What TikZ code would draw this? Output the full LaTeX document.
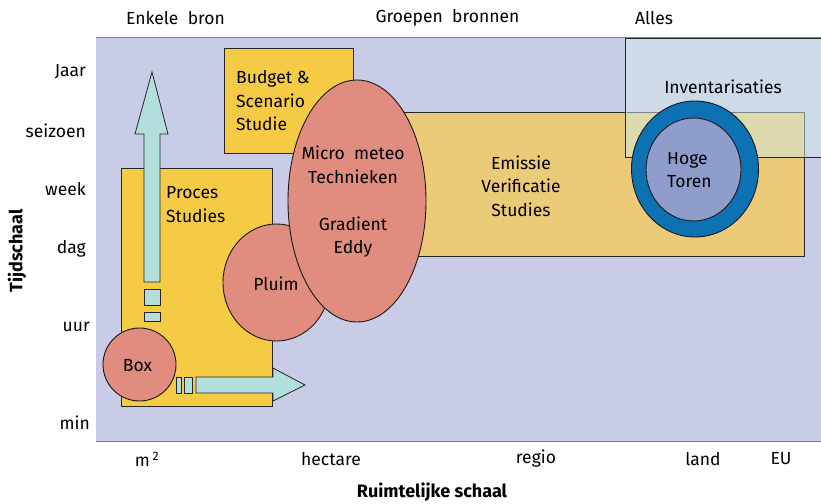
\documentclass[tikz,border=0pt]{standalone}
\usepackage{fontspec}
\setmainfont{Fira Sans}
\usepackage{tikz}
\usetikzlibrary{positioning, shapes.geometric}
\definecolor{lav}{HTML}{C8CCE6}
\definecolor{geel}{HTML}{F5CB45}
\definecolor{oker}{HTML}{ECCB78}
\definecolor{zalm}{HTML}{E08C7E}
\definecolor{turk}{HTML}{B2DEDC}
\definecolor{ring}{HTML}{0C72B4}
\definecolor{toren}{HTML}{8E9DCB}
\definecolor{inv}{HTML}{D0EAE8}
\tikzset{
  vak/.style={draw=black!85, line width=0.9pt, inner sep=0pt},
  bol/.style={ellipse, draw=black!90, line width=0.9pt, fill=zalm, inner sep=0pt},
  pijl/.style={draw=black!85, line width=0.8pt, fill=turk},
  as/.style={inner sep=0pt, anchor=east},
  tekst/.style={inner sep=0pt, align=center}
}

\begin{document}
\begin{tikzpicture}[x=1pt, y=-1pt, font=\fontsize{17.5}{23.5}\selectfont]
    \useasboundingbox (0,0) rectangle (821,503);
    \fill[lav] (96,37) rectangle (821,441);
    \draw[gray, line width=0.8pt] (96,37) -- (821,37) (96,441) -- (821,441);

    % rechthoeken
    \node [vak, fill=geel, minimum width=129, minimum height=105] (B) at (288.5,100.5) {};
    \node [vak, fill=oker, minimum width=424, minimum height=144] (E) at (592,184) {};
    \node [vak, fill=inv, fill opacity=0.5, minimum width=196, minimum height=119] (I) at (723,97.5) {};
    \node [vak, fill=geel, minimum width=151, minimum height=238] (P) at (196.5,287) {};

    % ellipsen
    \node [bol, minimum width=107, minimum height=117] (Pl) at (276.5,282.5) {};
    \node [bol, minimum width=138, minimum height=242, align=center] (M) at (357,201) {};
    \node [bol, minimum width=73, minimum height=73] (Bx) at (139.5,364.5) {};

    % pijlen
    \draw[pijl] (144,282) -- (144,134) -- (135,134) -- (152,72) -- (168,134)
        -- (160,134) -- (160,282) -- cycle;
    \draw[pijl] (144,289) rectangle (160,305);
    \draw[pijl] (144,312) rectangle (160,321);
    \draw[pijl] (196,377) -- (273,377) -- (273,368) -- (305,385) -- (273,401)
        -- (273,393) -- (196,393) -- cycle;
    \draw[pijl] (176,377) rectangle (181,393);
    \draw[pijl] (184,377) rectangle (192,393);

    % hoge toren
    \node [ellipse, draw=black!90, line width=0.9pt, fill=ring, minimum width=127, minimum height=136] (R) at (695,169) {};
    \node [ellipse, draw=black!90, line width=0.9pt, fill=toren, minimum width=95, minimum height=103] (T) at (693.5,169.5) {};

    % teksten
    \node [tekst, align=left, anchor=west] (Bt) at (236,101) {Budget \&\\Scenario\\Studie};
    \node [tekst, align=left, anchor=west] (Pt) at (166,204.5) {Proces\\Studies};
    \node [tekst] (Mt) at (353,202) {Micro\ \ meteo\\Technieken\\[23.5pt]Gradient\\Eddy};
    \node [tekst] (Et) at (521,186) {Emissie\\Verificatie\\Studies};
    \node [tekst] (It) at (723,87) {Inventarisaties};
    \node [tekst, align=left, anchor=west] (Tt) at (667,170) {Hoge\\Toren};
    \node [tekst] (Plt) at (276,284) {Pluim};
    \node [tekst] (Bxt) at (137.5,366) {Box};

    % assen
    \node [tekst] (e1) at (175.5,18) {Enkele\ \ bron};
    \node [tekst] (e2) at (447.5,18) {Groepen\ \ bronnen};
    \node [tekst] (e3) at (654,18) {Alles};
    \node [as] (t1) at (86,72) {Jaar};
    \node [as] (t2) at (86,131) {seizoen};
    \node [as] (t3) at (86,189) {week};
    \node [as] (t4) at (86,249) {dag};
    \node [as] (t5) at (90,327) {uur};
    \node [as] (t6) at (90,423) {min};
    \node [tekst, rotate=90, font=\fontsize{18}{21}\selectfont\bfseries] (ty) at (17,251) {Tijdschaal};
    \node [tekst] (r1) at (147,459) {m\,\textsuperscript{2}};
    \node [tekst] (r2) at (331,459) {hectare};
    \node [tekst] (r3) at (536,459) {regio};
    \node [tekst] (r4) at (703,459) {land};
    \node [tekst] (r5) at (781,459) {EU};
    \node [tekst, font=\fontsize{18}{21}\selectfont\bfseries] (rx) at (432,492) {Ruimtelijke schaal};
\end{tikzpicture}
\end{document}
